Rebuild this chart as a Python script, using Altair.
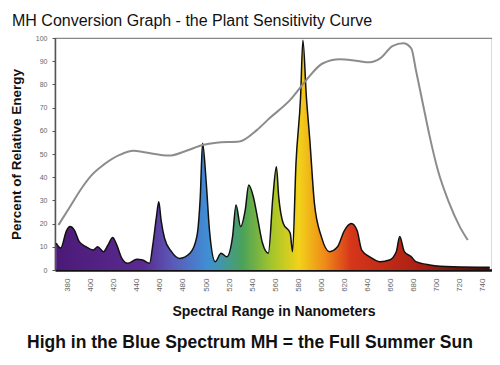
import altair as alt
import pandas as pd

# Lamp emission spectrum (nm, % relative energy)
spec_nm = [370, 374, 379, 382, 386, 390, 396, 402, 406, 411, 415, 419, 422, 427, 432, 440, 445, 451,
           454, 457, 459, 461, 464, 470, 477, 486, 492, 495, 497, 500, 503, 508, 513, 518, 523, 526,
           530, 534, 537, 541, 545, 549, 554, 558, 561, 563, 567, 573, 575, 578, 582, 584, 587, 590,
           594, 600, 607, 614, 620, 626, 631, 635, 642, 651, 659, 665, 668, 672, 678, 682, 694, 714, 746]
spec_val = [11.6, 9.5, 17, 18.7, 17, 12.2, 10, 8.6, 10, 7.9, 10.8, 14, 11.5, 5, 2.9, 4.6, 4.3, 2.9,
            11.5, 23, 29.4, 21.5, 13.7, 7.9, 5, 7.2, 14.4, 31.6, 54.6, 38.8, 17, 3.6, 7.2, 5.7, 14.4, 28,
            18.7, 25.9, 36.6, 31.6, 21.5, 11.5, 7.2, 31.6, 44.5, 31.6, 20, 15.8, 7.9, 46, 74.7, 99, 74.7, 56,
            28.7, 14.4, 7.9, 10, 17, 20, 17, 8.6, 5.7, 3.6, 4.3, 7.9, 14.4, 7.9, 5.7, 3.6, 2.2, 1.4, 1.2]

# Plant sensitivity curve
sens_nm = [372, 382, 393, 401, 411, 425, 437, 448, 468, 483, 497, 509, 529, 544, 555, 573, 587, 601,
           616, 630, 642, 651, 662, 671, 678, 682, 688, 694, 701, 711, 720, 727]
sens_val = [19.4, 27.3, 35.9, 41, 45.3, 49.6, 51.4, 50.6, 49.3, 51.4, 53.9, 54.9, 55.4, 60.3, 65.4,
            73.3, 81.9, 89, 90.8, 90.2, 89.5, 91.2, 96.6, 97.7, 95.5, 86.2, 71.8, 57.5, 43.1, 28.7, 18.7, 12.9]

x_ticks = list(range(380, 741, 20))
y_ticks = list(range(0, 101, 10))

spec = pd.DataFrame({"nm": spec_nm, "val": spec_val})
sens = pd.DataFrame({"nm": sens_nm, "val": sens_val})

xs = alt.Scale(domain=[369, 748], nice=False, zero=False)
ys = alt.Scale(domain=[0, 100], nice=False)

x_axis = alt.Axis(values=x_ticks, labelAngle=-90, labelFontSize=8, labelColor="#666666",
                  labelOverlap=False, title="Spectral Range in Nanometers", titleFontSize=14,
                  titleFontWeight="bold", titleFont="Liberation Sans", titleColor="#111111", titlePadding=13,
                  domainColor="#111111", domainWidth=2.5, ticks=False, grid=False, labelPadding=8,
                  labelFont="Liberation Sans")
y_axis = alt.Axis(values=y_ticks, labelFontSize=7, labelColor="#666666", labelOverlap=False,
                  title="Percent of Relative Energy", titleFontSize=13.5, titleFontWeight="bold",
                  titleFont="Liberation Sans", titleColor="#111111", titlePadding=12,
                  domainColor="#555555", domainWidth=1.5, tickSize=3, tickColor="#555555",
                  grid=False, labelFont="Liberation Sans", labelPadding=5)

grad = alt.Gradient(
    gradient="linear", x1=0, x2=1, y1=0, y2=0,
    stops=[
        alt.GradientStop(offset=0.0, color="#4b1a78"),
        alt.GradientStop(offset=0.2, color="#5a2a90"),
        alt.GradientStop(offset=0.27, color="#5a5ab8"),
        alt.GradientStop(offset=0.35, color="#3f8fd4"),
        alt.GradientStop(offset=0.43, color="#4aa25a"),
        alt.GradientStop(offset=0.5, color="#a8c628"),
        alt.GradientStop(offset=0.56, color="#f2d21a"),
        alt.GradientStop(offset=0.62, color="#ef8a18"),
        alt.GradientStop(offset=0.68, color="#d6361a"),
        alt.GradientStop(offset=0.85, color="#a81e12"),
        alt.GradientStop(offset=1.0, color="#3a0c0c"),
    ],
)

enc_x = alt.X("nm:Q", scale=xs, axis=x_axis)
enc_y = alt.Y("val:Q", scale=ys, axis=y_axis)

area = alt.Chart(spec).mark_area(color=grad, interpolate="monotone").encode(x=enc_x, y=enc_y)
outline = alt.Chart(spec).mark_line(color="#111111", strokeWidth=1.5, interpolate="monotone").encode(
    x=enc_x, y=enc_y)
sline = alt.Chart(sens).mark_line(color="#8c8c8c", strokeWidth=2, interpolate="monotone").encode(
    x=enc_x, y=enc_y)

caption = alt.Chart(pd.DataFrame({"t": ["High in the Blue Spectrum MH = the Full Summer Sun"]})).mark_text(
    font="Liberation Sans", fontSize=17.5, fontWeight="bold", color="#111111", align="center",
    baseline="middle").encode(x=alt.value(195), y=alt.value(305), text="t:N")

chart = alt.layer(area, outline, sline, caption).properties(
    width=437, height=232,
    title=alt.TitleParams("MH Conversion Graph - the Plant Sensitivity Curve", anchor="start",
                          fontSize=16, fontWeight="normal", font="Liberation Sans", color="#111111",
                          frame="group", offset=5, dx=-43),
    autosize=alt.AutoSizeParams(type="none"),
    padding={"left": 47, "top": 30, "right": 0, "bottom": 87},
).configure_view(stroke="#888888", strokeWidth=1.2).configure_axis(labelOverlap=False)

chart.save("out.html", embed_options={"renderer": "svg", "actions": False})
